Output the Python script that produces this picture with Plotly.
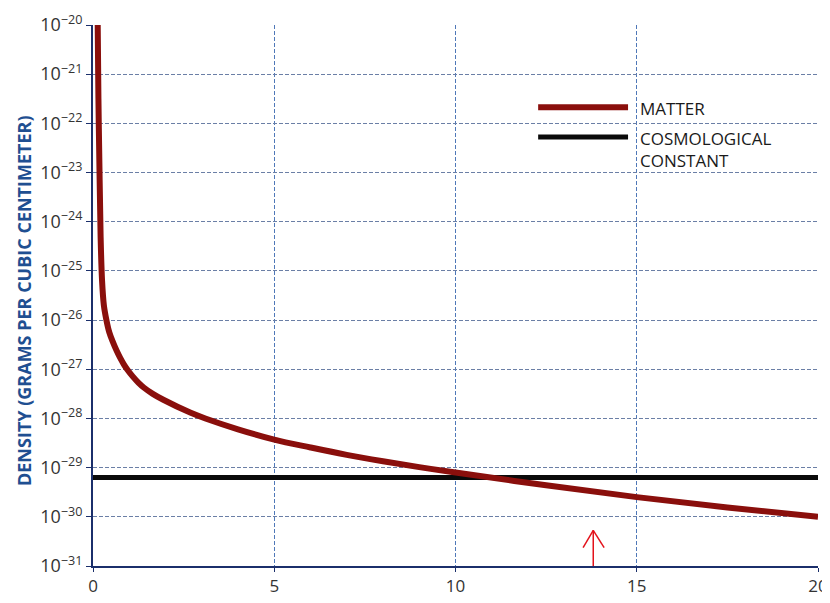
import plotly.graph_objects as go

# ---- data ----
time_x = [0.13, 0.15, 0.18, 0.21, 0.25, 0.30, 0.37, 0.45, 0.55, 0.65, 0.75, 0.85, 0.95,
          1.1, 1.25, 1.4, 1.65, 1.94, 2.68, 3.1, 4.0, 5.0, 6.0, 7.0, 8.0, 9.0, 10.0,
          12.5, 15.0, 17.5, 20.0]
matter_exp = [-20.0, -21.5, -23.0, -24.3, -25.2, -25.7, -26.0, -26.25, -26.45, -26.62,
              -26.77, -26.9, -27.01, -27.15, -27.27, -27.37, -27.5, -27.62, -27.88, -28.0,
              -28.22, -28.43, -28.59, -28.74, -28.87, -28.99, -29.1, -29.36, -29.6,
              -29.81, -30.0]
matter_density = [10 ** e for e in matter_exp]

cosmo_x = [0, 20]
cosmo_density = [6.3e-30, 6.3e-30]

x_ticks = [0, 5, 10, 15, 20]
y_exponents = list(range(-31, -19))
y_tickvals = [10.0 ** e for e in y_exponents]
y_ticktext = ["10<sup>\u2212%d</sup>" % (-e) for e in y_exponents]

arrow_x = 13.8

legend_labels = ["MATTER", "COSMOLOGICAL<br>CONSTANT"]

MATTER_COLOR = "#8a0f0c"
COSMO_COLOR = "#0a0a0a"
NAVY = "#1b2f6b"
HGRID = "#6b7fa6"
VGRID = "#4f78b8"
TICK_FONT = dict(family="Open Sans", size=18, color="#333333")
XTICK_FONT = dict(family="Open Sans", size=17, color="#333333")

fig = go.Figure()
fig.add_trace(go.Scatter(x=cosmo_x, y=cosmo_density, mode="lines",
                         line=dict(color=COSMO_COLOR, width=5), showlegend=False))
fig.add_trace(go.Scatter(x=time_x, y=matter_density, mode="lines",
                         line=dict(color=MATTER_COLOR, width=6, shape="spline", smoothing=1.0),
                         showlegend=False))

# the page body adds an 8px margin, so the figure is sized to end at the window edge
fig.update_layout(
    width=822, height=595,
    margin=dict(l=85, r=12, t=17, b=37),
    paper_bgcolor="white", plot_bgcolor="white",
    font=dict(family="Open Sans", color="#333333"),
    xaxis=dict(range=[0, 20], tickvals=x_ticks, showgrid=True, gridcolor=VGRID,
               griddash="4px,2px", gridwidth=1, showline=True, linecolor=NAVY, linewidth=2,
               ticks="outside", ticklen=4, tickcolor=NAVY, zeroline=False,
               tickfont=XTICK_FONT, automargin=False),
    yaxis=dict(type="log", range=[-31, -20], tickvals=y_tickvals, ticktext=y_ticktext,
               showgrid=True, gridcolor=HGRID, griddash="4px,2px", gridwidth=1,
               showline=True, linecolor=NAVY, linewidth=2, ticks="outside", ticklen=5,
               tickcolor=NAVY, zeroline=False, tickfont=TICK_FONT, automargin=False),
)

# y-axis title
fig.add_annotation(text="<b>DENSITY (GRAMS PER CUBIC CENTIMETER)</b>", xref="paper", yref="paper",
                   x=-0.095, y=0.49, textangle=-90, showarrow=False,
                   font=dict(family="Open Sans", size=18, color="#1f4f91"),
                   xanchor="center", yanchor="middle")

# legend (manual)
legend_colors = [MATTER_COLOR, COSMO_COLOR]
legend_widths = [6, 5]
legend_y = [0.848, 0.793]
for lab, col, w, yy in zip(legend_labels, legend_colors, legend_widths, legend_y):
    fig.add_shape(type="line", xref="paper", yref="paper", x0=0.614, x1=0.738, y0=yy, y1=yy,
                  line=dict(color=col, width=w))
    fig.add_annotation(text=lab, xref="paper", yref="paper", x=0.752, y=yy + 0.022,
                       xanchor="left", yanchor="top", align="left", showarrow=False,
                       font=dict(family="Open Sans", size=17, color="#1a1a1a"))

# red arrow
ARROW = "#e3121b"
fig.add_shape(type="line", xref="x", yref="paper", x0=arrow_x, x1=arrow_x, y0=0, y1=0.066,
              line=dict(color=ARROW, width=1.5))
fig.add_shape(type="line", xref="x", yref="paper", x0=arrow_x - 0.28, x1=arrow_x, y0=0.034, y1=0.066,
              line=dict(color=ARROW, width=1.5))
fig.add_shape(type="line", xref="x", yref="paper", x0=arrow_x + 0.3, x1=arrow_x, y0=0.034, y1=0.066,
              line=dict(color=ARROW, width=1.5))

fig.write_html("out.html")
